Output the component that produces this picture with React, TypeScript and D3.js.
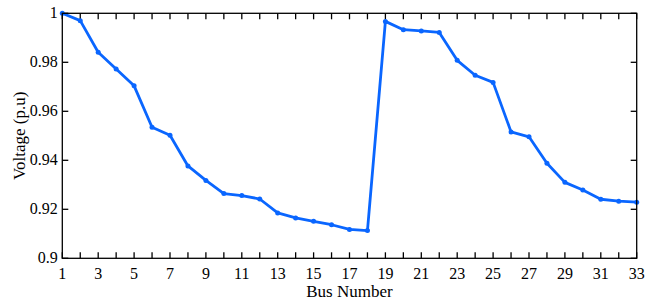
import React from "react";
import * as d3 from "d3";

const buses = d3.range(1, 34);
const voltages = [
  1.0, 0.997, 0.9841, 0.9773, 0.9704, 0.9535, 0.9502, 0.9377, 0.9318, 0.9264,
  0.9256, 0.9242, 0.9185, 0.9165, 0.9151, 0.9137, 0.9118, 0.9113, 0.9967, 0.9933,
  0.9928, 0.9922, 0.9808, 0.9747, 0.9718, 0.9516, 0.9496, 0.9388, 0.931, 0.9279,
  0.9241, 0.9233, 0.9229,
];
const xTickLabels = d3.range(1, 34, 2);
const yTicks = [0.9, 0.92, 0.94, 0.96, 0.98, 1];
const xLabel = "Bus Number";
const yLabel = "Voltage (p.u)";

export default function App() {
  const W = 654, H = 300;
  const L = 62.3, R = 636.7, T = 13.3, B = 258.3;
  const x = d3.scaleLinear().domain([1, 33]).range([L, R]);
  const y = d3.scaleLinear().domain([0.9, 1]).range([B, T]);
  const line = d3.line<number>().x((_, i) => x(buses[i])).y((d) => y(d));
  const tl = 6;
  const fs = { fontFamily: '"Liberation Serif", "Times New Roman", Times, serif' };
  const color = "#0a66ff";
  return (
    <svg width={W} height={H} style={{ position: "absolute", left: 0, top: 0, background: "#fff" }}>
      <rect x={0} y={0} width={W} height={H} fill="#fff" />
      <g stroke="#000" strokeWidth={1.3}>
        {buses.map((b) => (
          <g key={b}>
            <line x1={x(b)} x2={x(b)} y1={B} y2={B - tl} />
            <line x1={x(b)} x2={x(b)} y1={T} y2={T + tl} />
          </g>
        ))}
        {yTicks.map((t) => (
          <g key={t}>
            <line x1={L} x2={L + tl} y1={y(t)} y2={y(t)} />
            <line x1={R} x2={R - tl} y1={y(t)} y2={y(t)} />
          </g>
        ))}
      </g>
      <path d={line(voltages) || ""} fill="none" stroke={color} strokeWidth={2.8} strokeLinejoin="round" />
      {voltages.map((v, i) => (
        <circle key={i} cx={x(buses[i])} cy={y(v)} r={2.5} fill={color} />
      ))}
      <rect x={L} y={T} width={R - L} height={B - T} fill="none" stroke="#000" strokeWidth={1.3} />
      {xTickLabels.map((t) => (
        <text key={t} x={x(t)} y={278.5} textAnchor="middle" fontSize={16} style={fs}>{t}</text>
      ))}
      {yTicks.map((t) => (
        <text key={t} x={L - 4.5} y={y(t) + 5} textAnchor="end" fontSize={16} style={fs}>{String(+t.toFixed(2))}</text>
      ))}
      <text x={(L + R) / 2} y={297} textAnchor="middle" fontSize={17} style={fs}>{xLabel}</text>
      <text transform={`translate(25,${(T + B) / 2}) rotate(-90)`} textAnchor="middle" fontSize={17} style={fs}>{yLabel}</text>
    </svg>
  );
}
